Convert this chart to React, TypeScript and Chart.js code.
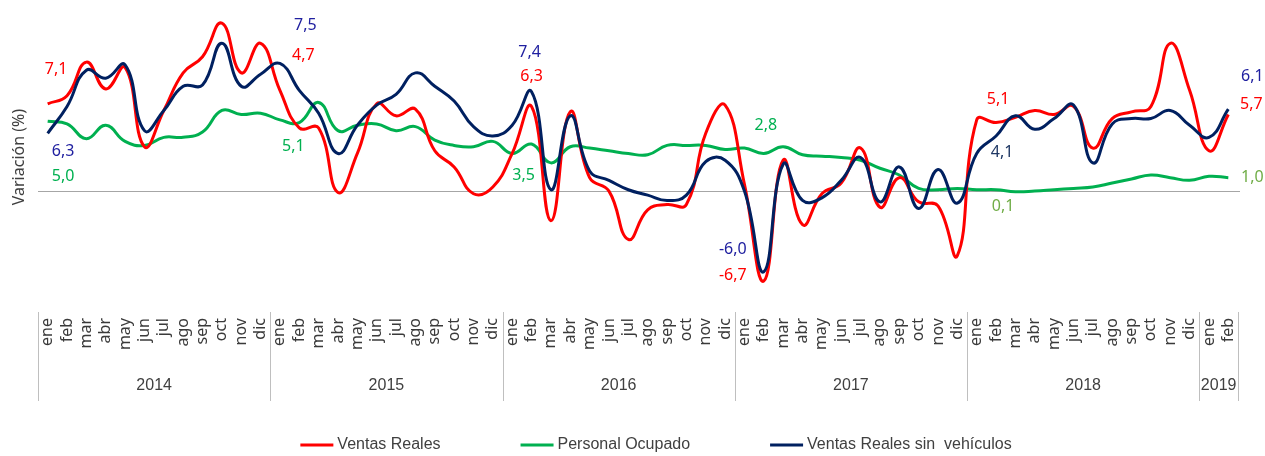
import React, { useEffect, useRef } from 'react';
import { Chart, registerables } from 'chart.js';

Chart.register(...registerables);

const years = ['2014', '2015', '2016', '2017', '2018', '2019'];
const monthsPerYear = [12, 12, 12, 12, 12, 2];
const monthNames = ['ene', 'feb', 'mar', 'abr', 'may', 'jun', 'jul', 'ago', 'sep', 'oct', 'nov', 'dic'];

const ventasReales = [
  6.5, 7.1, 9.6, 7.6, 9.2, 3.3, 6.0, 8.8, 10.0, 12.5, 8.8, 11.0,
  7.5, 4.7, 4.7, -0.1, 2.8, 6.5, 5.6, 6.1, 3.0, 1.8, -0.2, 0.3,
  2.8, 6.3, -2.2, 5.9, 1.0, 0.0, -3.6, -1.4, -1.0, -1.0, 4.3, 6.4,
  0.5, -6.7, 2.3, -2.5, -0.2, 0.6, 3.2, -1.2, 1.0, -0.8, -1.1, -4.8,
  5.3, 5.1, 5.5, 6.0, 5.7, 6.3, 3.2, 5.4, 5.9, 6.3, 11.0, 7.5,
  3.0, 5.7,
];

const personalOcupado = [
  5.2, 5.0, 3.9, 4.9, 3.7, 3.4, 4.0, 4.0, 4.4, 6.0, 5.7, 5.8,
  5.3, 5.1, 6.6, 4.5, 4.9, 5.0, 4.5, 4.8, 3.8, 3.4, 3.3, 3.7,
  2.8, 3.5, 2.1, 3.3, 3.2, 3.0, 2.8, 2.7, 3.4, 3.4, 3.4, 3.1,
  3.2, 2.8, 3.3, 2.7, 2.6, 2.5, 2.3, 1.7, 1.2, 0.2, 0.1, 0.2,
  0.1, 0.1, -0.05, 0.0, 0.1, 0.2, 0.3, 0.6, 0.9, 1.2, 1.0, 0.8,
  1.1, 1.0,
];

const ventasSinVehiculos = [
  4.3, 6.3, 9.0, 8.4, 9.4, 4.5, 6.0, 7.8, 7.9, 11.0, 7.8, 8.7,
  9.5, 7.5, 5.8, 2.8, 4.9, 6.4, 7.2, 8.8, 7.8, 6.7, 4.8, 4.1,
  4.9, 7.4, 0.1, 5.6, 1.5, 0.8, 0.1, -0.3, -0.7, -0.3, 2.2, 2.3,
  0.0, -6.0, 2.0, -0.7, -0.5, 0.8, 2.5, -0.8, 1.8, -1.3, 1.6, -0.9,
  2.8, 4.1, 5.6, 4.6, 5.4, 6.4, 2.1, 5.0, 5.4, 5.4, 6.0, 4.9,
  4.0, 6.1,
];

// Points (February of each year) that carry a value label
const labelledPoints = [1, 13, 25, 37, 49, 61];

// Label placement (pixel offsets from the point) and colours, per series
const labelStyles = [
  {
    offsets: [[-11, -26], [4, -73], [0, -30], [-31, -6], [2, -23], [23, -10]],
    colors: ['#FF0000', '#FF0000', '#FF0000', '#FF0000', '#FF0000', '#FF0000'],
  },
  {
    offsets: [[-4, 53], [-6, 24], [-8, 31], [2, -28], [7, 17], [24, 0]],
    colors: ['#00B050', '#00B050', '#00B050', '#00B050', '#70AD47', '#70AD47'],
  },
  {
    offsets: [[-4, 45], [6, -65], [-2, -39], [-31, -22], [6, 16], [24, -33]],
    colors: ['#2020A0', '#2020A0', '#2020A0', '#2020A0', '#1F3864', '#2020A0'],
  },
];

const categories: string[] = [];
const yearStarts: number[] = [];
monthsPerYear.forEach((n) => {
  yearStarts.push(categories.length);
  for (let m = 0; m < n; m++) categories.push(monthNames[m]);
});

const fmt = (v: number) => v.toFixed(1).replace('.', ',');

const decorPlugin = {
  id: 'decor',
  beforeDatasetsDraw(chart: any) {
    const { ctx, chartArea, scales } = chart;
    const y0 = Math.round(scales.y.getPixelForValue(0)) + 0.5;
    ctx.save();
    ctx.strokeStyle = '#A6A6A6';
    ctx.lineWidth = 1;
    ctx.beginPath();
    ctx.moveTo(chartArea.left, y0);
    ctx.lineTo(chartArea.right + 2, y0);
    ctx.stroke();
    ctx.restore();
  },
  afterDatasetsDraw(chart: any) {
    const { ctx, chartArea, scales } = chart;
    const xs = scales.x;
    const ys = scales.y;
    const step = xs.getPixelForValue(1) - xs.getPixelForValue(0);
    ctx.save();

    // value labels
    ctx.font = '16px "Noto Sans", "Open Sans", sans-serif';
    ctx.textAlign = 'center';
    ctx.textBaseline = 'middle';
    chart.data.datasets.forEach((ds: any, di: number) => {
      const st = labelStyles[di];
      labelledPoints.forEach((idx, k) => {
        const px = xs.getPixelForValue(idx);
        const py = ys.getPixelForValue(ds.data[idx]);
        ctx.fillStyle = st.colors[k];
        ctx.fillText(fmt(ds.data[idx]), px + st.offsets[k][0], py + st.offsets[k][1]);
      });
    });

    // month labels (rotated)
    const axisTop = chartArea.bottom;
    ctx.fillStyle = '#3A3A3A';
    ctx.font = '16px "Noto Sans", "Open Sans", sans-serif';
    ctx.textAlign = 'right';
    ctx.textBaseline = 'middle';
    categories.forEach((lab, i) => {
      const px = xs.getPixelForValue(i);
      ctx.save();
      ctx.translate(px, axisTop + 6);
      ctx.rotate(-Math.PI / 2);
      ctx.fillText(lab, 0, 0);
      ctx.restore();
    });

    // year separators and labels
    ctx.strokeStyle = '#BFBFBF';
    ctx.lineWidth = 1;
    const bounds: number[] = yearStarts.map((s) => xs.getPixelForValue(s) - step / 2);
    bounds.push(xs.getPixelForValue(categories.length - 1) + step / 2);
    bounds.forEach((bx) => {
      const x = Math.round(bx) + 0.5;
      ctx.beginPath();
      ctx.moveTo(x, axisTop);
      ctx.lineTo(x, axisTop + 89);
      ctx.stroke();
    });
    ctx.fillStyle = '#404040';
    ctx.font = '16px "Liberation Sans Narrow", "Liberation Sans", sans-serif';
    ctx.textAlign = 'center';
    ctx.textBaseline = 'middle';
    years.forEach((yr, i) => {
      ctx.fillText(yr, (bounds[i] + bounds[i + 1]) / 2, axisTop + 74);
    });

    // y-axis title
    ctx.save();
    ctx.font = '16px "Noto Sans", "Open Sans", sans-serif';
    ctx.fillStyle = '#404040';
    ctx.translate(19, (ys.getPixelForValue(0) + chartArea.top) / 2 + 60);
    ctx.rotate(-Math.PI / 2);
    ctx.textAlign = 'center';
    ctx.textBaseline = 'middle';
    ctx.fillText('Variación (%)', 0, 0);
    ctx.restore();

    // legend
    ctx.font = '16px "Liberation Sans Narrow", "Liberation Sans", sans-serif';
    const lineLen = 33;
    const gapLT = 4;
    const gapItems = 80;
    const items = chart.data.datasets.map((ds: any) => ({
      text: ds.label,
      color: ds.borderColor,
      w: lineLen + gapLT + ctx.measureText(ds.label).width,
    }));
    const total = items.reduce((a: number, it: any) => a + it.w, 0) + gapItems * (items.length - 1);
    let lx = (chartArea.left + chartArea.right) / 2 + 18 - total / 2;
    const ly = chart.height - 11;
    ctx.textAlign = 'left';
    ctx.textBaseline = 'middle';
    items.forEach((it: any) => {
      ctx.strokeStyle = it.color;
      ctx.lineWidth = 3;
      ctx.beginPath();
      ctx.moveTo(lx, ly);
      ctx.lineTo(lx + lineLen, ly);
      ctx.stroke();
      ctx.fillStyle = '#404040';
      ctx.fillText(it.text, lx + lineLen + gapLT, ly);
      lx += it.w + gapItems;
    });

    ctx.restore();
  },
};

export default function App() {
  const ref = useRef<HTMLCanvasElement | null>(null);

  useEffect(() => {
    if (!ref.current) return;
    const chart = new Chart(ref.current, {
      type: 'line',
      data: {
        labels: categories,
        datasets: [
          {
            label: 'Ventas Reales',
            data: ventasReales,
            borderColor: '#FF0000',
            backgroundColor: '#FF0000',
            borderWidth: 3,
            pointRadius: 0,
            tension: 0.45,
            order: 2,
          },
          {
            label: 'Personal Ocupado',
            data: personalOcupado,
            borderColor: '#00B050',
            backgroundColor: '#00B050',
            borderWidth: 3,
            pointRadius: 0,
            tension: 0.45,
            order: 3,
          },
          {
            label: 'Ventas Reales sin  vehículos',
            data: ventasSinVehiculos,
            borderColor: '#002060',
            backgroundColor: '#002060',
            borderWidth: 3,
            pointRadius: 0,
            tension: 0.45,
            order: 1,
          },
        ],
      },
      options: {
        responsive: false,
        animation: false,
        devicePixelRatio: 1,
        layout: { padding: { left: 38, right: 27, top: 3, bottom: 144 } },
        plugins: {
          legend: { display: false },
          tooltip: { enabled: false },
          title: { display: false },
        },
        scales: {
          x: { type: 'category', display: false, offset: true },
          y: { type: 'linear', display: false, min: -9, max: 14 },
        },
      },
      plugins: [decorPlugin],
    });
    return () => chart.destroy();
  }, []);

  return (
    <div style={{ position: 'fixed', left: 0, top: 0, width: 1265, height: 456, background: '#fff' }}>
      <canvas ref={ref} width={1265} height={456} style={{ width: 1265, height: 456, display: 'block' }} />
    </div>
  );
}
